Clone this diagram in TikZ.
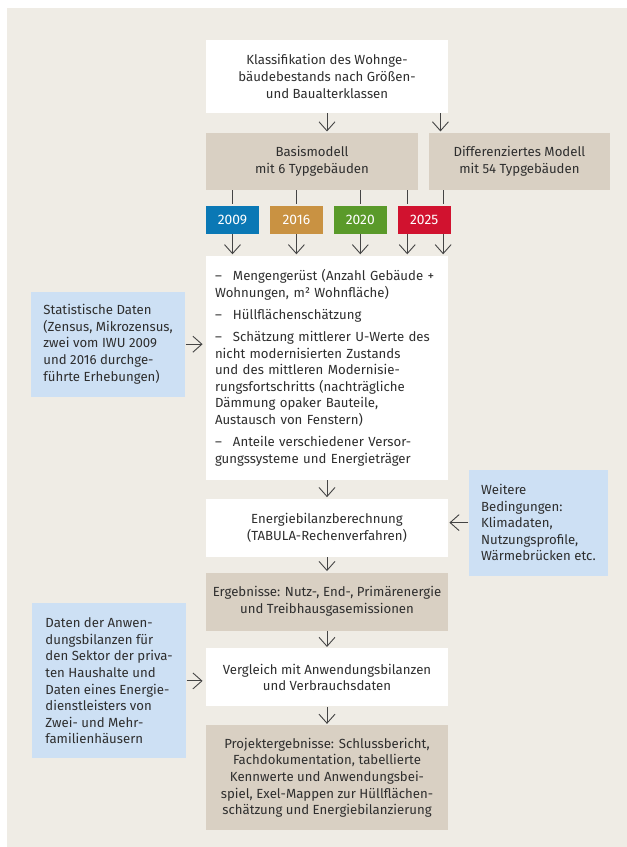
\documentclass[tikz,border=0pt]{standalone}
\usepackage{fontspec}
\setmainfont{Fira Sans}
\usetikzlibrary{positioning, arrows.meta}

\definecolor{bgbeige}{HTML}{EFECE5}
\definecolor{tan}{HTML}{D9D0C3}
\definecolor{lightblue}{HTML}{CDE0F4}
\definecolor{txtgray}{HTML}{2E2E2E}
\definecolor{linegray}{HTML}{444444}
\definecolor{y2009}{HTML}{0A78B5}
\definecolor{y2016}{HTML}{C99242}
\definecolor{y2020}{HTML}{5A9A2A}
\definecolor{y2025}{HTML}{D1122F}

\newcommand{\boxfont}{\fontsize{13.2pt}{16.6pt}\selectfont}
\newcommand{\dashitem}[1]{\hangindent=18pt\hangafter=1\noindent\makebox[18pt][l]{–}#1\par}
\newcommand{\itemgap}{\vspace{5.5pt}}

\tikzset{
  whitebox/.style={fill=white, text=txtgray, align=center, inner sep=0pt, font=\boxfont},
  tanbox/.style={whitebox, fill=tan},
  bluebox/.style={fill=lightblue, text=txtgray, align=left, inner sep=0pt, font=\boxfont},
  yearbox/.style={text=white, minimum width=53pt, minimum height=28pt, inner sep=0pt, font=\fontsize{13.8pt}{15pt}\selectfont},
  line/.style={draw=linegray, line width=0.9pt}
}

\begin{document}
\begin{tikzpicture}[x=1pt, y=1pt, >={Straight Barb[length=9pt, width=16pt]}, shorten >=1pt, line width=0.9pt]
  \useasboundingbox (0,0) rectangle (627,-847);
  \fill[bgbeige] (7,-8) rectangle (627,-847);

  % main column
  \node[whitebox, minimum width=242pt, minimum height=73pt] (klass) at (327,-76.5) {Klassifikation des Wohnge-\\ bäudebestands nach Größen-\\ und Baualterklassen};
  \node[tanbox, minimum width=212pt, minimum height=57pt] (basis) [below=19pt of klass.south west, anchor=north west] {Basismodell\\ mit 6 Typgebäuden};
  \node[tanbox, minimum width=181pt, minimum height=57pt] (diff) [right=10pt of basis] {Differenziertes Modell\\ mit 54 Typgebäuden};

  \node[yearbox, fill=y2009] (j2009) [below=15pt of basis.south west, anchor=north west] {2009};
  \node[yearbox, fill=y2016] (j2016) [right=10pt of j2009] {2016};
  \node[yearbox, fill=y2020] (j2020) [right=10pt of j2016] {2020};
  \node[yearbox, fill=y2025] (j2025) [right=10pt of j2020] {2025};

  \node[whitebox, text width=224pt, minimum height=224pt, inner xsep=9pt, align=left] (main) [below=21pt of j2009.south west, anchor=north west] {%
    \dashitem{Mengengerüst (Anzahl Gebäude +\\ Wohnungen, m² Wohnfläche)}\itemgap
    \dashitem{Hüllflächenschätzung}\itemgap
    \dashitem{Schätzung mittlerer U-Werte des\\ nicht modernisierten Zustands\\ und des mittleren Modernisie-\\ rungsfortschritts (nachträgliche\\ Dämmung opaker Bauteile,\\ Austausch von Fenstern)}\itemgap
    \dashitem{Anteile verschiedener Versor-\\ gungssysteme und Energieträger}};

  \node[whitebox, minimum width=242pt, minimum height=58pt] (energie) [below=18pt of main] {Energiebilanzberechnung\\ (TABULA-Rechenverfahren)};
  \node[tanbox, minimum width=242pt, minimum height=58pt] (ergeb) [below=15pt of energie] {Ergebnisse: Nutz-, End-, Primärenergie\\ und Treibhausgasemissionen};
  \node[whitebox, minimum width=242pt, minimum height=58pt] (vergl) [below=17pt of ergeb] {Vergleich mit Anwendungsbilanzen\\ und Verbrauchsdaten};
  \node[tanbox, minimum width=242pt, minimum height=105pt] (projekt) [below=18pt of vergl] {Projektergebnisse: Schlussbericht,\\ Fachdokumentation, tabellierte\\ Kennwerte und Anwendungsbei-\\ spiel, Exel-Mappen zur Hüllflächen-\\ schätzung und Energiebilanzierung};

  % side inputs
  \node[bluebox, minimum width=154pt, minimum height=105pt] (stat) [left=20pt of main, yshift=23.5pt] {Statistische Daten\\ (Zensus, Mikrozensus,\\ zwei vom IWU 2009\\ und 2016 durchge-\\ führte Erhebungen)};
  \node[bluebox, minimum width=139pt, minimum height=106pt] (weitere) [right=20pt of energie, yshift=5pt] {Weitere\\ Bedingungen:\\ Klimadaten,\\ Nutzungsprofile,\\ Wärmebrücken etc.};
  \node[bluebox, minimum width=154pt, minimum height=155pt] (daten) [left=19pt of vergl, yshift=-3.5pt] {Daten der Anwen-\\ dungsbilanzen für\\ den Sektor der priva-\\ ten Haushalte und\\ Daten eines Energie-\\ dienstleisters von\\ Zwei- und Mehr-\\ familienhäusern};

  % model to year lines
  \draw[line] (j2009.north |- basis.south) -- (j2009.north);
  \draw[line] (j2016.north |- basis.south) -- (j2016.north);
  \draw[line] (j2020.north |- basis.south) -- (j2020.north);
  \draw[line] ([xshift=10pt]j2025.north west |- basis.south) -- ([xshift=10pt]j2025.north west);
  \draw[line] ([xshift=-8pt]j2025.north east |- diff.south) -- ([xshift=-8pt]j2025.north east);

  \path[->, linegray]
    (klass.south) edge (klass.south |- basis.north)
    ([xshift=-8pt]klass.south east) edge ([xshift=-8pt]klass.south east |- diff.north)
    (j2009.south) edge (j2009.south |- main.north)
    (j2016.south) edge (j2016.south |- main.north)
    (j2020.south) edge (j2020.south |- main.north)
    ([xshift=10pt]j2025.south west) edge ([xshift=10pt]j2025.south west |- main.north)
    ([xshift=-8pt]j2025.south east) edge ([xshift=-8pt]j2025.south east |- main.north)
    (main) edge (energie)
    (energie) edge (ergeb)
    (ergeb) edge (vergl)
    (vergl) edge (projekt)
    (weitere.west) edge (weitere.west -| energie.east)
    (stat.east) edge [shorten >=3pt] (stat.east -| main.west)
    (daten.east) edge [shorten >=3pt] (daten.east -| vergl.west)
  ;
\end{tikzpicture}
\end{document}
